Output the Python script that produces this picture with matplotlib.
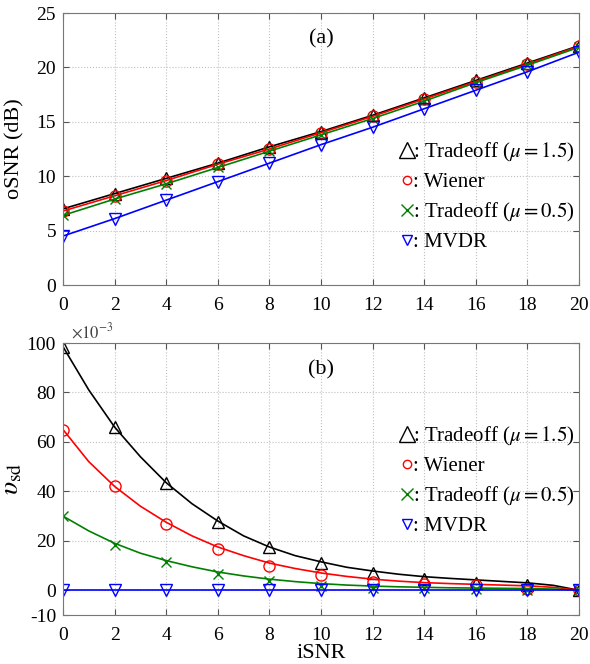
import numpy as np
import matplotlib
matplotlib.use("Agg")
import matplotlib.pyplot as plt
from matplotlib.lines import Line2D

plt.rcParams['font.family'] = ['Liberation Serif', 'DejaVu Serif']
plt.rcParams['mathtext.fontset'] = 'stix'
plt.rcParams['axes.unicode_minus'] = False

# x values
isnr = [0, 2, 4, 6, 8, 10, 12, 14, 16, 18, 20]
isnr_fine = list(range(0, 21))

# (a) output SNR in dB
osnr_trade15 = [7.0, 8.4, 9.8, 11.2, 12.7, 14.1, 15.6, 17.2, 18.8, 20.4, 22.0]
osnr_wiener = [6.8, 8.2, 9.6, 11.1, 12.5, 14.0, 15.5, 17.1, 18.7, 20.3, 21.95]
osnr_trade05 = [6.4, 7.9, 9.3, 10.8, 12.3, 13.8, 15.3, 16.9, 18.6, 20.2, 21.85]
osnr_mvdr = [4.5, 6.1, 7.8, 9.5, 11.2, 12.9, 14.5, 16.2, 17.9, 19.6, 21.4]

# (b) speech distortion index (x 1e-3), markers at even iSNR
vsd_trade15 = [98.5, 66, 43.5, 27.5, 17.5, 11, 7, 4.5, 3, 2, 0]
vsd_wiener = [65, 42, 27, 16.5, 10, 6, 3.5, 2.5, 2, 0.5, 0]
vsd_trade05 = [30, 18.5, 11.5, 6.5, 3.8, 1.8, 1, 0.8, 0.5, 0.3, 0]
vsd_mvdr = [0] * 11

# (b) curves at every integer iSNR
curve_trade15 = [98.5, 81, 66, 54, 43.5, 35, 28, 22, 17.5, 14, 11.5,
                 9.3, 7.8, 6.5, 5.5, 4.8, 4.2, 3.6, 3.0, 2.0, 0]
curve_wiener = [65, 52, 42, 34, 27.5, 22, 17.5, 14, 11, 8.8, 7,
                5.6, 4.5, 3.7, 3.1, 2.7, 2.4, 2.1, 1.8, 1.2, 0]
curve_trade05 = [30, 24, 19, 15, 12, 9.5, 7.4, 5.8, 4.5, 3.5, 2.7,
                 2.1, 1.7, 1.4, 1.2, 1.0, 0.9, 0.8, 0.7, 0.5, 0]
curve_mvdr = [0] * 21

labels = [r'Tradeoff ($\mu = 1.5$)', 'Wiener', r'Tradeoff ($\mu = 0.5$)', 'MVDR']
colors = ['black', 'red', 'green', 'blue']
markers = ['^', 'o', 'x', 'v']
msizes = [9, 8, 7, 8]
leg_msizes = [11, 6, 9, 7]

fig = plt.figure(figsize=(5.9, 6.64), dpi=100)
ax1 = fig.add_axes([63 / 590, 1 - 285 / 664, 516 / 590, 272 / 664])
ax2 = fig.add_axes([63 / 590, 1 - 615 / 664, 516 / 590, 272 / 664])


def style(ax):
    ax.set_xlim(0, 20)
    ax.set_xticks(isnr)
    ax.grid(True, linestyle=':', color='#c0c0c0', linewidth=0.8)
    ax.tick_params(direction='in', top=True, right=True, labelsize=14,
                   color='#555555', length=4)
    ax.tick_params(axis='x', pad=9)
    ax.tick_params(axis='y', pad=5)
    for s in ax.spines.values():
        s.set_color('#777777')
        s.set_linewidth(0.8)
    ax.yaxis.set_label_coords(-0.075, 0.5)


def legend(ax, ytop):
    handles = [Line2D([], [], linestyle='none', marker=m, color=c, mfc='none',
                      markersize=ms, mew=1.0)
               for m, c, ms in zip(markers, colors, leg_msizes)]
    ax.legend(handles, [': ' + l for l in labels], loc='upper left',
              bbox_to_anchor=(0.655, ytop), frameon=False, fontsize=15,
              handlelength=0.6, handletextpad=0.0, labelspacing=0.42,
              borderaxespad=0, borderpad=0)


# panel (a)
for y, c, m, ms in zip([osnr_trade15, osnr_wiener, osnr_trade05, osnr_mvdr],
                       colors, markers, msizes):
    ax1.plot(isnr, y, color=c, marker=m, mfc='none', markersize=ms,
             mew=1.0, linewidth=1.2)
style(ax1)
ax1.set_ylim(0, 25)
ax1.set_yticks([0, 5, 10, 15, 20, 25])
ax1.set_ylabel('oSNR (dB)', fontsize=16)
ax1.text(10, 22.6, '(a)', fontsize=16, ha='center', va='center')
legend(ax1, 0.53)

# panel (b)
for yc, ym, c, m, ms in zip([curve_trade15, curve_wiener, curve_trade05, curve_mvdr],
                            [vsd_trade15, vsd_wiener, vsd_trade05, vsd_mvdr],
                            colors, markers, msizes):
    ax2.plot(isnr_fine, yc, color=c, linewidth=1.2)
    ax2.plot(isnr, ym, color=c, marker=m, mfc='none', markersize=ms,
             mew=1.0, linestyle='none')
style(ax2)
ax2.set_ylim(-10, 100)
ax2.set_yticks([-10, 0, 20, 40, 60, 80, 100])
ax2.set_ylabel(r'$\upsilon_{\rm sd}$', fontsize=20)
ax2.set_xlabel('iSNR', fontsize=16, labelpad=0)
ax2.text(10, 89, '(b)', fontsize=16, ha='center', va='center')
ax2.text(0.015, 1.005, r'$\times 10^{-3}$', transform=ax2.transAxes,
         fontsize=12, color='#444444', va='bottom', ha='left')
legend(ax2, 0.70)

fig.savefig('out.png', dpi=100)
